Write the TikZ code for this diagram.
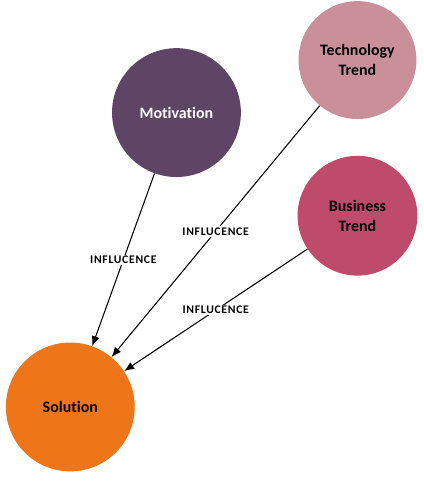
\documentclass[tikz,border=0pt]{standalone}
\usepackage{fontspec}
\setmainfont[Ligatures=NoCommon]{Carlito}
\newfontfamily\labelfont[LetterSpace=6,Ligatures=NoCommon]{Carlito}
\usetikzlibrary{arrows.meta}
\definecolor{motivcol}{HTML}{5E4565}
\definecolor{techcol}{HTML}{C9909A}
\definecolor{busicol}{HTML}{BE4B6B}
\definecolor{solcol}{HTML}{EE7518}
\tikzset{
	factor/.style={circle,inner sep=0pt,align=center,font=\bfseries\fontsize{12}{15}\selectfont},
	influence/.style={draw=black,line width=0.8pt,-{Latex[length=7.5pt,width=6pt]}},
	inflabel/.style={fill=white,inner sep=1pt,font=\labelfont\bfseries\fontsize{8.8}{10}\selectfont}
}
\begin{document}
\begin{tikzpicture}
	\useasboundingbox (0,0) rectangle (11.22,12.73);
	% circles
	\node [factor,fill=motivcol,text=white,minimum size=3.41cm] (motivation) at (4.67,9.75) {Motivation};
	\node [factor,fill=techcol,minimum size=3.12cm] (technology) at (9.46,11.14) {Technology\\Trend};
	\node [factor,fill=busicol,minimum size=3.17cm] (business) at (9.46,7.02) {Business\\Trend};
	\node [factor,fill=solcol,minimum size=3.41cm] (solution) at (1.86,1.96) {Solution};
	% connectors
	\draw [influence] (motivation) -- (solution)
	node [inflabel,midway] {INFLUCENCE};
	\draw [influence] (technology) -- (solution)
	node [inflabel,midway] {INFLUCENCE};
	\draw [influence] (business) -- (solution)
	node [inflabel,midway] {INFLUCENCE};
\end{tikzpicture}
\end{document}
